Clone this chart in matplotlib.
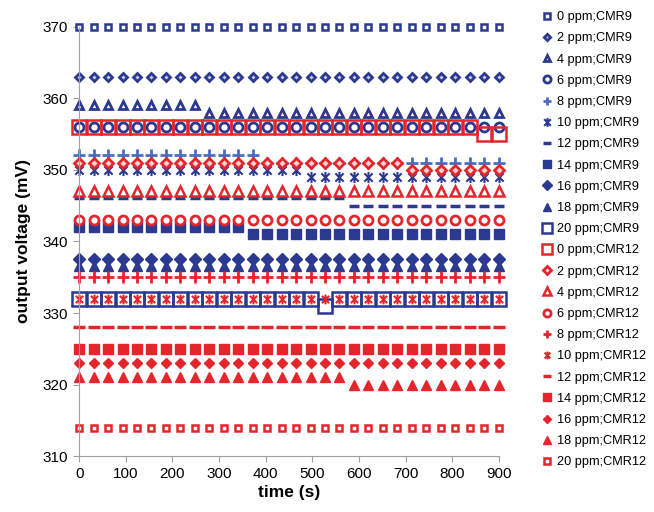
import matplotlib
matplotlib.use('Agg')
import matplotlib.pyplot as plt
from matplotlib.path import Path

plt.rcParams['font.family'] = ['Liberation Sans', 'DejaVu Sans']

# sample times (s)
time_s = [0, 31, 62, 93, 124, 155, 186, 217, 248, 279, 310, 341, 372, 403, 434,
          465, 496, 527, 558, 589, 620, 651, 682, 713, 744, 775, 806, 837, 868, 899]

# output voltage (mV) per concentration, sensor CMR9
cmr9_0 = [370] * 30
cmr9_2 = [363] * 30
cmr9_4 = [359] * 9 + [358] * 21
cmr9_6 = [356] * 30
cmr9_8 = [352] * 13 + [351] * 17
cmr9_10 = [350] * 16 + [349] * 14
cmr9_12 = [346] * 19 + [345] * 11
cmr9_14 = [342] * 12 + [341] * 18
cmr9_16 = [337.5] * 30
cmr9_18 = [336.5] * 30
cmr9_20 = [332] * 17 + [331] + [332] * 12

# output voltage (mV) per concentration, sensor CMR12
cmr12_0 = [356] * 28 + [355] * 2
cmr12_2 = [351] * 23 + [350] * 7
cmr12_4 = [347] * 30
cmr12_6 = [343] * 30
cmr12_8 = [335] * 30
cmr12_10 = [332] * 30
cmr12_12 = [328] * 30
cmr12_14 = [325] * 30
cmr12_16 = [323] * 30
cmr12_18 = [321] * 19 + [320] * 11
cmr12_20 = [314] * 30

blue = '#2b3990'
blue_light = '#4a6cc4'
red = '#e4262c'

# Excel-like "star" marker: X with a vertical bar
star = Path([(0, -1), (0, 1), (-0.75, -0.75), (0.75, 0.75), (-0.75, 0.75), (0.75, -0.75)],
            [Path.MOVETO, Path.LINETO, Path.MOVETO, Path.LINETO, Path.MOVETO, Path.LINETO])

series = [
    (cmr9_0, '0 ppm;CMR9', dict(marker='s', ms=5, mfc='white', mec=blue, mew=1.8)),
    (cmr9_2, '2 ppm;CMR9', dict(marker='D', ms=4, mfc='#c5cbe8', mec=blue, mew=2)),
    (cmr9_4, '4 ppm;CMR9', dict(marker='^', ms=6, mfc='white', mec=blue, mew=2)),
    (cmr9_6, '6 ppm;CMR9', dict(marker='o', ms=6.5, mfc='white', mec=blue, mew=2)),
    (cmr9_8, '8 ppm;CMR9', dict(marker='+', ms=8, mec=blue_light, mew=2)),
    (cmr9_10, '10 ppm;CMR9', dict(marker=star, ms=8, mfc=blue, mec=blue, mew=1.5)),
    (cmr9_12, '12 ppm;CMR9', dict(marker='_', ms=7.5, mec=blue, mew=2.5)),
    (cmr9_14, '14 ppm;CMR9', dict(marker='s', ms=6.5, mfc=blue, mec=blue, mew=1)),
    (cmr9_16, '16 ppm;CMR9', dict(marker='D', ms=6, mfc=blue, mec=blue, mew=1)),
    (cmr9_18, '18 ppm;CMR9', dict(marker='^', ms=6.5, mfc=blue, mec=blue, mew=1)),
    (cmr9_20, '20 ppm;CMR9', dict(marker='s', ms=9.6, mfc='none', mec=blue, mew=1.8)),
    (cmr12_0, '0 ppm;CMR12', dict(marker='s', ms=9.6, mfc='none', mec=red, mew=1.8)),
    (cmr12_2, '2 ppm;CMR12', dict(marker='D', ms=5.5, mfc='#fbd3d3', mec=red, mew=2)),
    (cmr12_4, '4 ppm;CMR12', dict(marker='^', ms=7, mfc='white', mec=red, mew=1.8)),
    (cmr12_6, '6 ppm;CMR12', dict(marker='o', ms=6.5, mfc='white', mec=red, mew=2)),
    (cmr12_8, '8 ppm;CMR12', dict(marker='+', ms=8, mec=red, mew=2)),
    (cmr12_10, '10 ppm;CMR12', dict(marker=star, ms=7, mfc=red, mec=red, mew=1.5)),
    (cmr12_12, '12 ppm;CMR12', dict(marker='_', ms=8, mec=red, mew=2.5)),
    (cmr12_14, '14 ppm;CMR12', dict(marker='s', ms=7, mfc=red, mec=red, mew=1)),
    (cmr12_16, '16 ppm;CMR12', dict(marker='D', ms=5, mfc=red, mec=red, mew=1)),
    (cmr12_18, '18 ppm;CMR12', dict(marker='^', ms=6.5, mfc=red, mec=red, mew=1)),
    (cmr12_20, '20 ppm;CMR12', dict(marker='s', ms=5, mfc='white', mec=red, mew=1.8)),
]

fig = plt.figure(figsize=(6.54, 5.12), dpi=100)
ax = fig.add_axes([0.121, 0.109, 0.642, 0.839])

handles = []
for values, label, style in series:
    h, = ax.plot(time_s, values, linestyle='none', label=label, clip_on=False, **style)
    handles.append(h)

ax.set_xlim(0, 900)
ax.set_ylim(310, 370)
ax.set_xticks(range(0, 901, 100))
ax.set_yticks(range(310, 371, 10))
ax.tick_params(direction='out', length=4, color='#a0a0a0', labelsize=11, pad=4)
for side in ['top', 'right']:
    ax.spines[side].set_visible(False)
for side in ['left', 'bottom']:
    ax.spines[side].set_color('#a0a0a0')

ax.set_xlabel('time (s)', fontsize=12.5, fontweight='bold', labelpad=3)
ax.set_ylabel('output voltage (mV)', fontsize=12.5, fontweight='bold', labelpad=8)

fig.legend(handles=handles, loc='upper left', bbox_to_anchor=(0.827, 0.978),
           frameon=False, fontsize=9.2, handlelength=0.95, handletextpad=0.3,
           labelspacing=0.72, borderpad=0, borderaxespad=0, markerscale=0.8)

fig.savefig('out.png', dpi=100)
